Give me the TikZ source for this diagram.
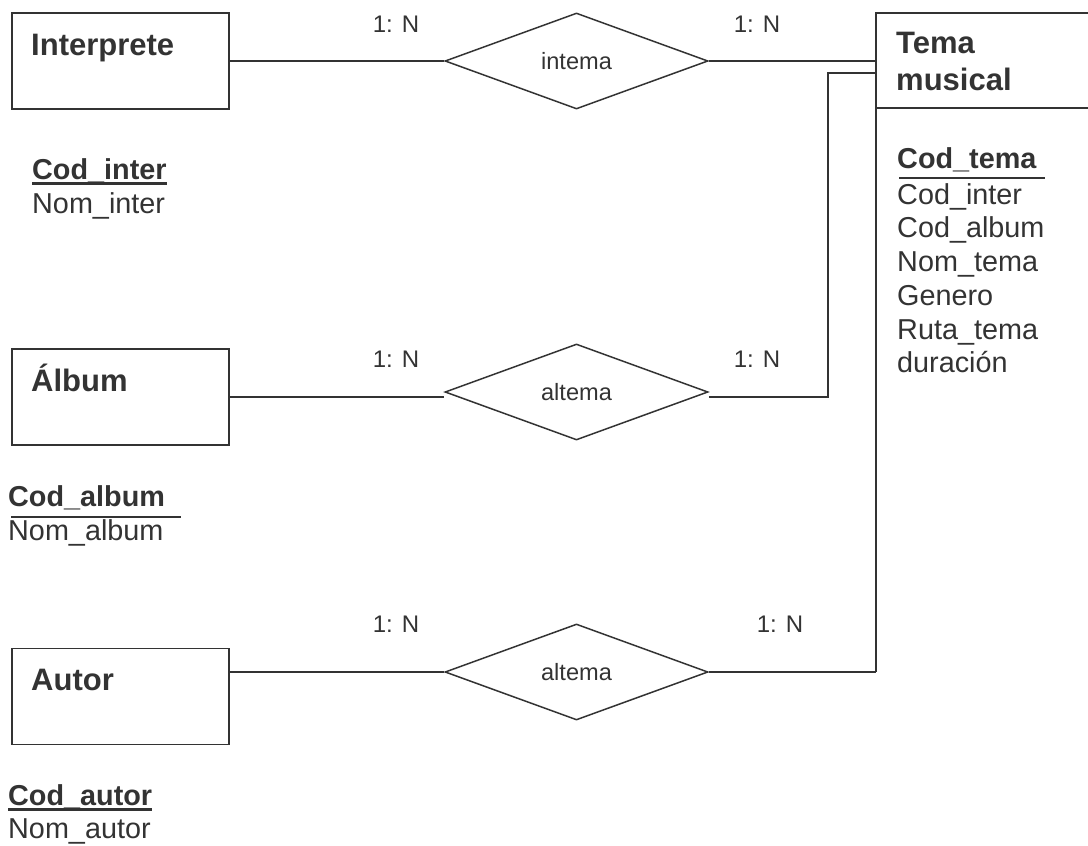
\documentclass[tikz,border=0pt]{standalone}
\usepackage{fontspec}
\setmainfont{Liberation Sans}
\usetikzlibrary{shapes.geometric}
\definecolor{ink}{HTML}{333333}
\tikzset{
  entity/.style={draw=ink, line width=1.5pt, minimum width=217pt, minimum height=96pt, inner sep=0pt},
  relation/.style={diamond, draw=ink, line width=1.5pt, minimum width=263pt, minimum height=96pt,
    inner sep=0pt, text=ink, font=\fontsize{23.6}{28}\selectfont},
  etitle/.style={inner sep=0pt, text=ink, align=left, font=\fontsize{31}{37}\selectfont\bfseries},
  attr/.style={inner sep=0pt, anchor=base west, text=ink, font=\fontsize{28.8}{34.6}\selectfont},
  key/.style={attr, font=\fontsize{28.8}{34.6}\selectfont\bfseries},
  card/.style={inner sep=0pt, anchor=base, text=ink, font=\fontsize{24}{28}\selectfont},
  link/.style={draw=ink, line width=1.5pt},
}
\begin{document}
\begin{tikzpicture}[x=1pt, y=-1pt]
    \useasboundingbox (0,0) rectangle (1088,846);

    % Entities
    \node[entity] (inter) at (120.5,61) {};
    \node[etitle, anchor=base west] (inter-t) at (31,55) {Interprete};
    \node[entity] (alb) at (120.5,397) {};
    \node[etitle, anchor=base west] (alb-t) at (31,391) {Álbum};
    \node[entity] (aut) at (120.5,696.5) {};
    \node[etitle, anchor=base west] (aut-t) at (31,690) {Autor};

    % Tema musical (open to the right, left side runs down)
    \draw[link] (1092,13) -- (876,13) -- (876,672);
    \draw[link] (876,108) -- (1092,108);
    \node[etitle, anchor=north west] (tema-t) at (896,32) {Tema\\musical};
    \coordinate (tema-a) at (876,61);
    \coordinate (tema-b) at (876,73);
    \coordinate (tema-c) at (876,672);

    % Relationships
    \node[relation] (intema) at (576.5,61) {intema};
    \node[relation] (altema1) at (576.5,392) {altema};
    \node[relation] (altema2) at (576.5,672) {altema};

    % Connectors
    \draw[link] (inter) -- (intema);
    \draw[link] (intema) -- (tema-a);
    \draw[link] (alb.east) -- (alb.east -| altema1.west);
    \draw[link] (alb.east -| altema1.east) -| ([xshift=-48pt]tema-b) -- (tema-b);
    \draw[link] (aut.east |- altema2.west) -- (altema2);
    \draw[link] (altema2) -- (tema-c);

    % Cardinalities
    \node[card] (c1) at (396,32) {1: N};
    \node[card] (c2) at (757,32) {1: N};
    \node[card] (c3) at (396,367) {1: N};
    \node[card] (c4) at (757,367) {1: N};
    \node[card] (c5) at (396,632) {1: N};
    \node[card] (c6) at (780,632) {1: N};

    % Attributes
    \node[key] (inter-k) at (32,179) {Cod\_inter};
    \draw[ink, line width=3pt] ([yshift=-4pt]inter-k.base west) -- ([yshift=-4pt]inter-k.base east);
    \node[attr] (inter-n) at (32,213) {Nom\_inter};

    \node[key] (alb-k) at (8,506) {Cod\_album};
    \draw[ink, line width=1.2pt] (11,517) -- (181,517);
    \node[attr] (alb-n) at (8,540) {Nom\_album};

    \node[key] (aut-k) at (8,805) {Cod\_autor};
    \draw[ink, line width=3pt] ([yshift=-4pt]aut-k.base west) -- ([yshift=-4pt]aut-k.base east);
    \node[attr] (aut-n) at (8,838) {Nom\_autor};

    \node[key] (tema-k) at (897,168) {Cod\_tema};
    \draw[ink, line width=1.2pt] (899,178) -- (1045,178);
    \foreach \t [count=\i] in {Cod\_inter, Cod\_album, Nom\_tema, Genero, Ruta\_tema, duración}
      \node[attr] (tema-\i) at (897,170.5+33.7*\i) {\t};
\end{tikzpicture}
\end{document}
